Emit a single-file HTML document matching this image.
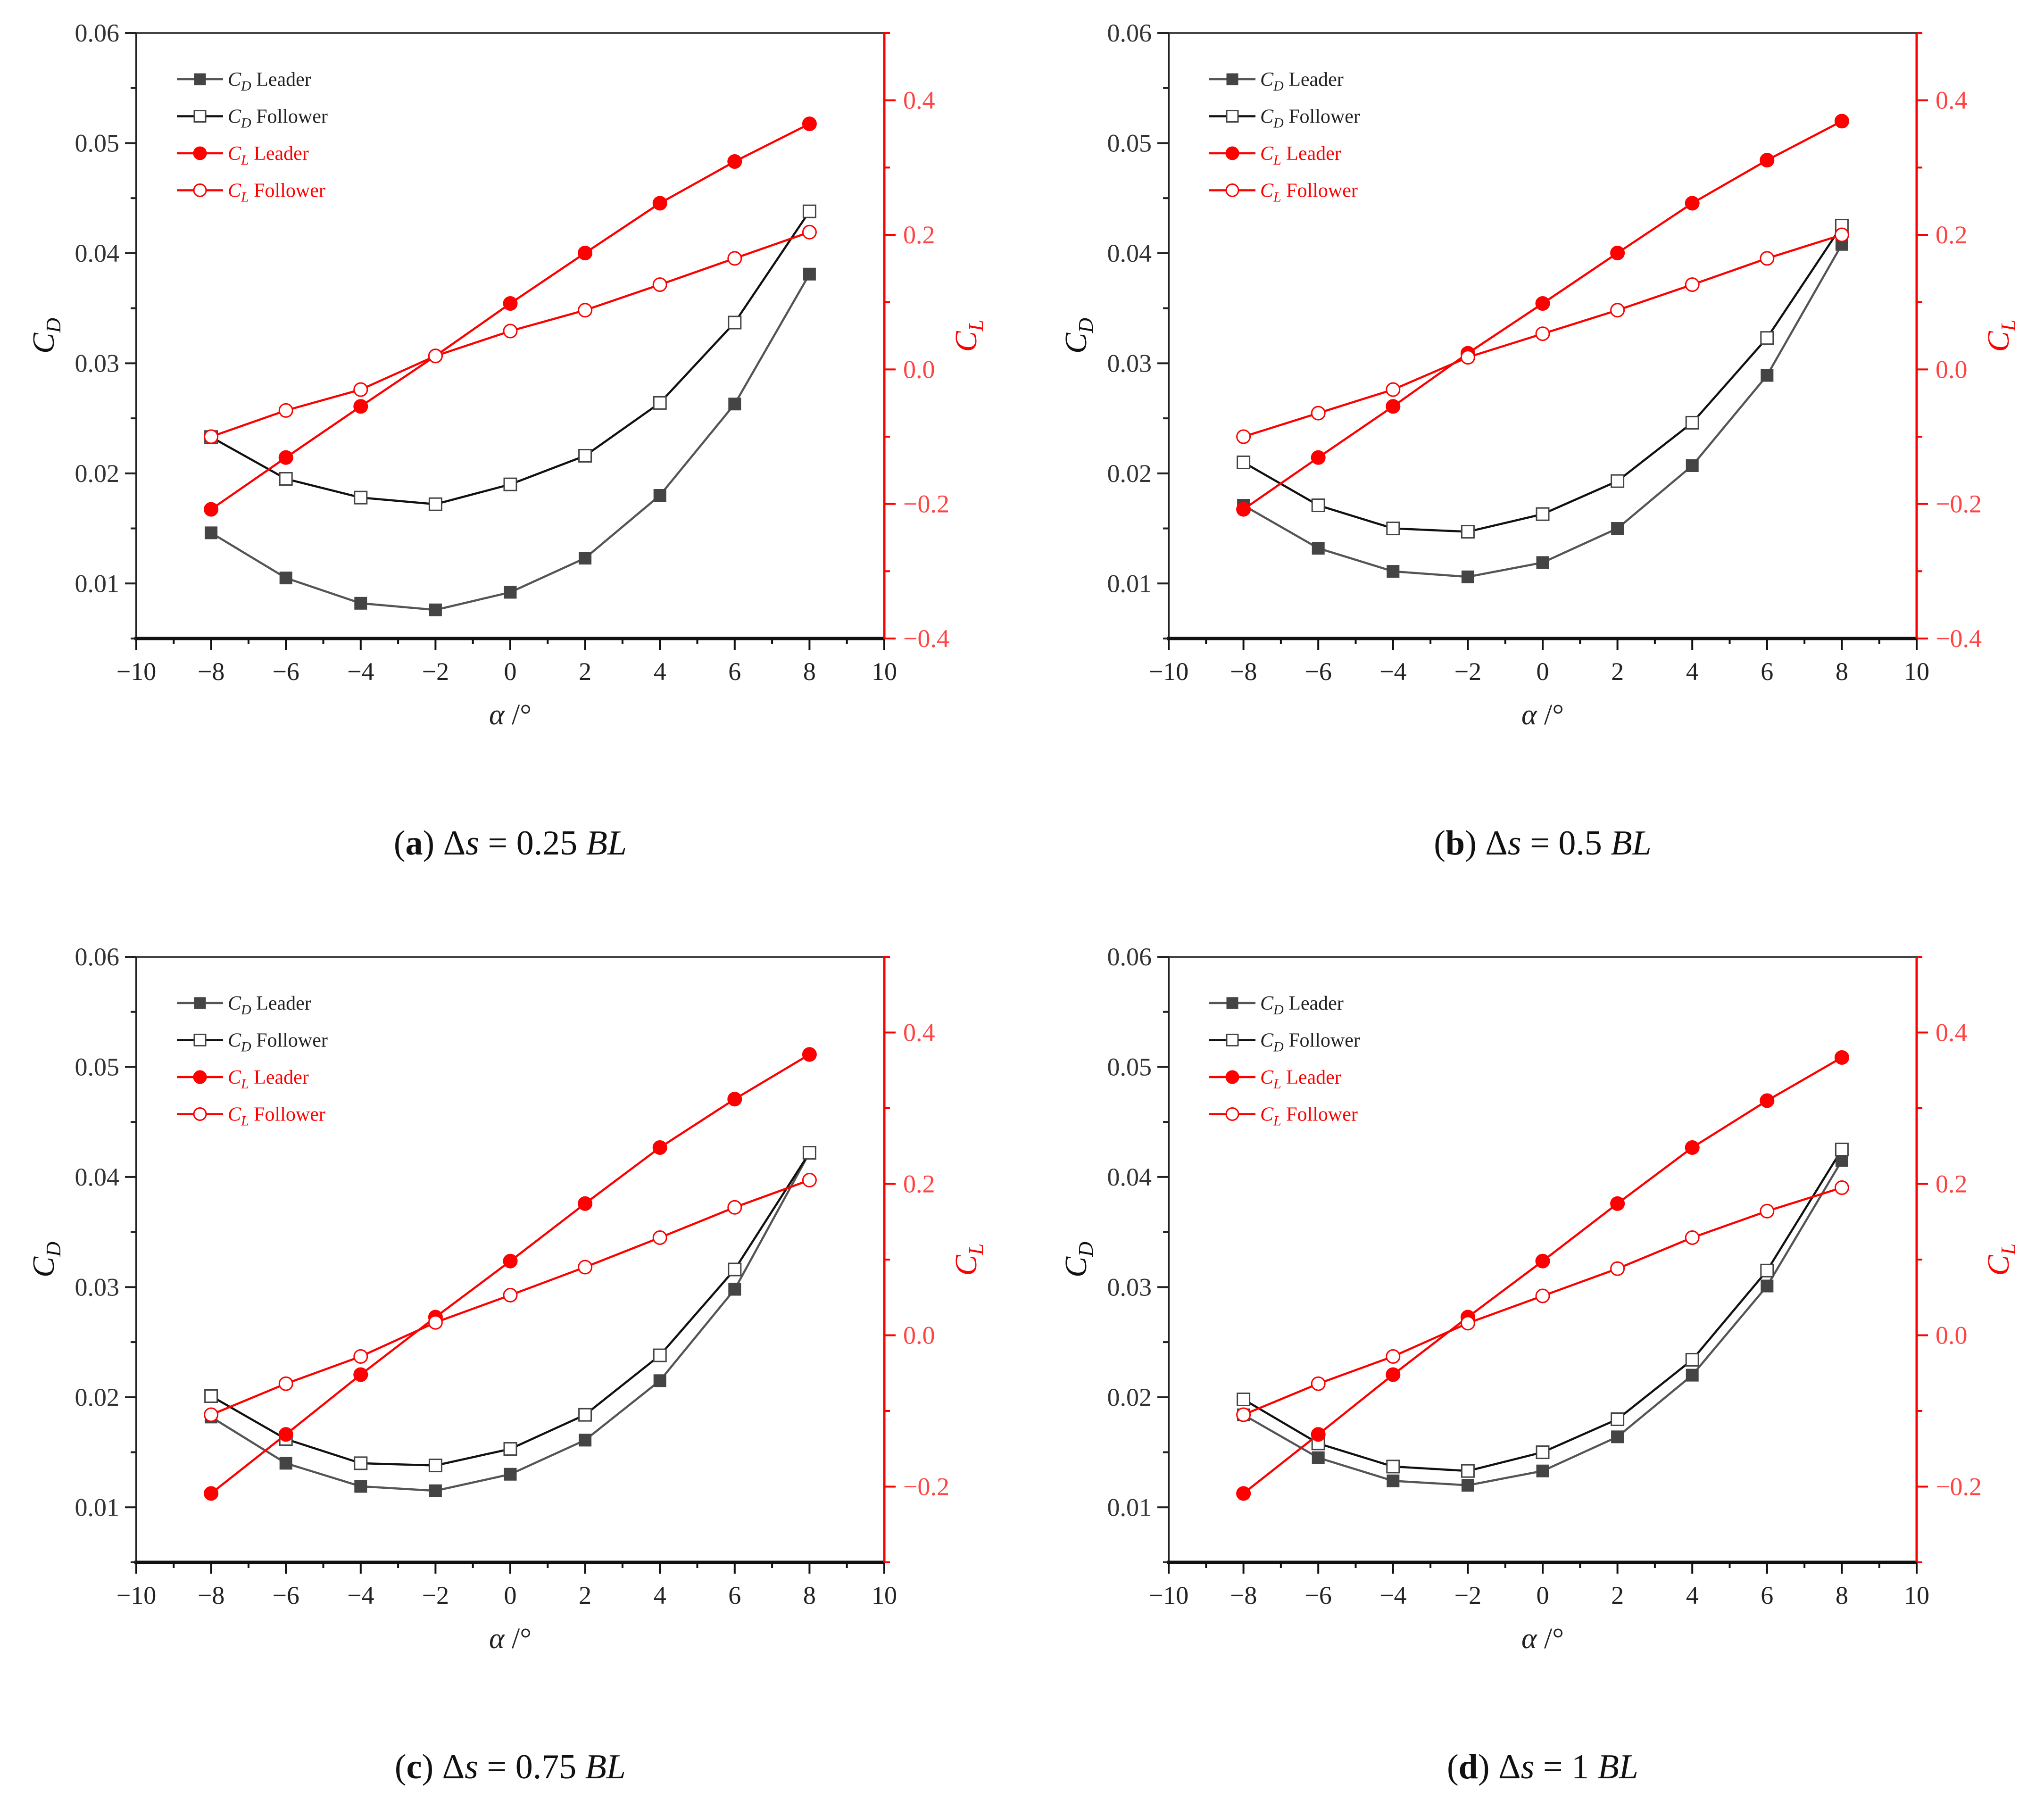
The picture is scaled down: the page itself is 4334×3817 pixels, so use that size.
<!DOCTYPE html>
<html><head><meta charset="utf-8"><style>
html,body{margin:0;padding:0;background:#fff;}
svg{display:block;font-family:"Liberation Serif",serif;}
</style></head><body>
<svg id="fig" width="4334" height="3817" viewBox="0 0 4334 3817" xmlns="http://www.w3.org/2000/svg"></svg>
<script>
const alpha = [-8,-6,-4,-2,0,2,4,6,8];
const xTicks = [-10,-8,-6,-4,-2,0,2,4,6,8,10];
const cdTicks = [0.01,0.02,0.03,0.04,0.05,0.06];
const clTicksAB = [-0.4,-0.2,0.0,0.2,0.4];
const clTicksCD = [-0.2,0.0,0.2,0.4];
const captions = ["a","b","c","d"];
const spacing = ["0.25","0.5","0.75","1"];
const cdLeaderA = [0.0146,0.0105,0.0082,0.0076,0.0092,0.0123,0.0180,0.0263,0.0381];
const cdFollowerA = [0.0233,0.0195,0.0178,0.0172,0.0190,0.0216,0.0264,0.0337,0.0438];
const clLeaderA = [-0.208,-0.131,-0.055,0.020,0.098,0.173,0.247,0.309,0.365];
const clFollowerA = [-0.100,-0.061,-0.030,0.020,0.057,0.088,0.126,0.165,0.204];
const cdLeaderB = [0.0171,0.0132,0.0111,0.0106,0.0119,0.0150,0.0207,0.0289,0.0408];
const cdFollowerB = [0.0210,0.0171,0.0150,0.0147,0.0163,0.0193,0.0246,0.0323,0.0425];
const clLeaderB = [-0.208,-0.131,-0.055,0.024,0.098,0.173,0.247,0.311,0.369];
const clFollowerB = [-0.100,-0.065,-0.030,0.018,0.053,0.088,0.126,0.165,0.200];
const cdLeaderC = [0.0182,0.0140,0.0119,0.0115,0.0130,0.0161,0.0215,0.0298,0.0422];
const cdFollowerC = [0.0201,0.0162,0.0140,0.0138,0.0153,0.0184,0.0238,0.0316,0.0422];
const clLeaderC = [-0.209,-0.131,-0.052,0.024,0.098,0.174,0.248,0.312,0.371];
const clFollowerC = [-0.105,-0.064,-0.028,0.017,0.053,0.090,0.129,0.169,0.205];
const cdLeaderD = [0.0184,0.0145,0.0124,0.0120,0.0133,0.0164,0.0220,0.0301,0.0415];
const cdFollowerD = [0.0198,0.0158,0.0137,0.0133,0.0150,0.0180,0.0234,0.0315,0.0425];
const clLeaderD = [-0.209,-0.131,-0.052,0.024,0.098,0.174,0.248,0.310,0.367];
const clFollowerD = [-0.105,-0.064,-0.028,0.016,0.052,0.088,0.129,0.164,0.195];

const NS="http://www.w3.org/2000/svg";
const svg=document.getElementById('fig');
function mk(tag,attrs,parent){const e=document.createElementNS(NS,tag);for(const k in attrs)e.setAttribute(k,attrs[k]);(parent||svg).appendChild(e);return e;}

const panels=[
 {ox:289,oy:70,cd:[cdLeaderA,cdFollowerA],cl:[clLeaderA,clFollowerA],clMin:-0.4,clTicks:clTicksAB},
 {ox:2478,oy:70,cd:[cdLeaderB,cdFollowerB],cl:[clLeaderB,clFollowerB],clMin:-0.4,clTicks:clTicksAB},
 {ox:289,oy:2029,cd:[cdLeaderC,cdFollowerC],cl:[clLeaderC,clFollowerC],clMin:-0.3,clTicks:clTicksCD},
 {ox:2478,oy:2029,cd:[cdLeaderD,cdFollowerD],cl:[clLeaderD,clFollowerD],clMin:-0.3,clTicks:clTicksCD}
];
const W=1586,H=1284;
panels.forEach((p,pi)=>{
 const g=mk('g',{});
 
 
 const L=p.ox,T=p.oy,R=L+W,B=T+H;
 const xs=v=>L+(v+10)/20*W;
 const yd=v=>T+(0.06-v)/0.055*H;
 const yl=v=>B-(v-p.clMin)/(0.5-p.clMin)*H;
 const top=mk('line',{x1:L,y1:T,x2:R,y2:T,stroke:'#444','stroke-width':4},g);
 
 const la=mk('line',{x1:L,y1:T,x2:L,y2:B,stroke:'#222','stroke-width':4},g);
 
 const ba=mk('line',{x1:L-4,y1:B,x2:R,y2:B,stroke:'#111','stroke-width':7},g);
 
 const ra=mk('line',{x1:R,y1:T,x2:R,y2:B,stroke:'#f00','stroke-width':5},g);
 
 xTicks.forEach((v,i)=>{
  const x=xs(v);
  mk('line',{x1:x,y1:B,x2:x,y2:B+24,stroke:'#111','stroke-width':4},g);
  if(i<xTicks.length-1){const xm=xs(v+1);mk('line',{x1:xm,y1:B,x2:xm,y2:B+12,stroke:'#111','stroke-width':4},g);}
  const t=mk('text',{x:x,y:B+88,'font-size':54,'text-anchor':'middle',fill:'#222'},g);
  t.textContent=(v<0?'\u2212':'')+Math.abs(v);
  
 });
 for(let k=1;k<=11;k++){
  const v=0.005*k;const y=yd(v);
  const major=k%2===0;
  mk('line',{x1:L,y1:y,x2:L-(major?24:12),y2:y,stroke:'#222','stroke-width':4},g);
 }
 mk('line',{x1:L,y1:yd(0.06),x2:L-24,y2:yd(0.06),stroke:'#222','stroke-width':4},g);
 cdTicks.forEach(v=>{
  const t=mk('text',{x:L-36,y:yd(v)+18,'font-size':54,'text-anchor':'end',fill:'#333'},g);
  t.textContent=v.toFixed(2);
  
 });
 for(let v=p.clMin;v<=0.5001;v+=0.1){
  const y=yl(v);const major=Math.round(v*10)%2===0;
  mk('line',{x1:R,y1:y,x2:R+(major?24:12),y2:y,stroke:'#f00','stroke-width':4},g);
 }
 p.clTicks.forEach(v=>{
  const t=mk('text',{x:R+40,y:yl(v)+18,'font-size':54,fill:'#f44'},g);
  t.textContent=(v<0?'\u2212':'')+Math.abs(v).toFixed(1);
  
 });
 const cx=(L+R)/2, cy=(T+B)/2;
 const xt=mk('text',{x:cx,y:B+182,'font-size':62,'text-anchor':'middle',fill:'#222','font-style':'italic'},g);
 xt.innerHTML='α<tspan font-style="normal"> /°</tspan>';
 
 const ct=mk('text',{x:0,y:0,'font-size':66,'text-anchor':'middle',fill:'#111','font-style':'italic',transform:`translate(${L-175},${cy}) rotate(-90)`},g);
 ct.innerHTML='C<tspan font-size="44" dy="14">D</tspan>';
 
 const lt=mk('text',{x:0,y:0,'font-size':66,'text-anchor':'middle',fill:'#f00','font-style':'italic',transform:`translate(${R+195},${cy}) rotate(-90)`},g);
 lt.innerHTML='C<tspan font-size="44" dy="14">L</tspan>';
 
 const series=[
  {d:p.cd[0],ys:yd,col:'#555',mk:'sq',fill:'#444',name:'cd-leader'},
  {d:p.cd[1],ys:yd,col:'#111',mk:'sq',fill:'#fff',name:'cd-follower'},
  {d:p.cl[0],ys:yl,col:'#f00',mk:'ci',fill:'#f00',name:'cl-leader'},
  {d:p.cl[1],ys:yl,col:'#f00',mk:'ci',fill:'#fff',name:'cl-follower'}
 ];
 series.forEach(s=>{
  const pts=s.d.map((v,i)=>xs(alpha[i])+','+s.ys(v)).join(' ');
  const pl=mk('polyline',{points:pts,fill:'none',stroke:s.col,'stroke-width':4.5},g);
  
 });
 series.forEach(s=>{
  s.d.forEach((v,i)=>{
   const x=xs(alpha[i]),y=s.ys(v);let m;
   if(s.mk==='sq') m=mk('rect',{x:x-13,y:y-13,width:26,height:26,fill:s.fill,stroke:'#444','stroke-width':s.fill==='#fff'?3:1},g);
   else m=mk('circle',{cx:x,cy:y,r:14,fill:s.fill,stroke:'#f00','stroke-width':3},g);
   
  });
 });
 const lx=L+86, ly0=T+98;
 const legs=[['D','Leader','#555','sq','#444','#222'],['D','Follower','#111','sq','#fff','#222'],['L','Leader','#f00','ci','#f00','#f00'],['L','Follower','#f00','ci','#fff','#f00']];
 legs.forEach((l,i)=>{
  const y=ly0+i*78.5;
  const lg=mk('g',{},g);
  
  mk('line',{x1:lx,y1:y,x2:lx+98,y2:y,stroke:l[2],'stroke-width':4.5},lg);
  if(l[3]==='sq') mk('rect',{x:lx+37,y:y-12,width:24,height:24,fill:l[4],stroke:'#444','stroke-width':l[4]==='#fff'?3:1},lg);
  else mk('circle',{cx:lx+49,cy:y,r:13,fill:l[4],stroke:'#f00','stroke-width':3},lg);
  const t=mk('text',{x:lx+108,y:y+14,'font-size':42,fill:l[5]},lg);
  t.innerHTML=`<tspan font-style="italic">C</tspan><tspan font-style="italic" font-size="30" dy="10">${l[0]}</tspan><tspan dy="-10"> ${l[1]}</tspan>`;
 });
 const cap=mk('text',{x:cx,y:B+458,'font-size':74,'text-anchor':'middle',fill:'#111'},g);
 cap.innerHTML=`(<tspan font-weight="bold">${captions[pi]}</tspan>) Δ<tspan font-style="italic">s</tspan> = ${spacing[pi]} <tspan font-style="italic">BL</tspan>`;
 
});
</script>
</body></html>
